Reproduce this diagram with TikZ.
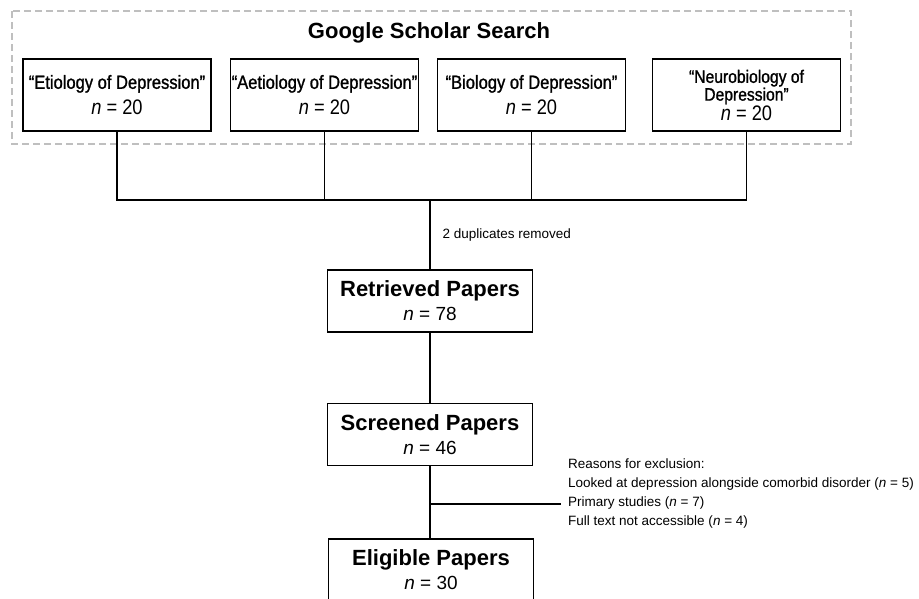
\documentclass[tikz,border=0pt]{standalone}
\usepackage{fontspec}
\setmainfont{Liberation Sans}
\newfontfamily\narrowfont[FakeStretch=0.87]{Liberation Sans}
\newfontfamily\queryfont[FakeStretch=0.87,FakeBold=1.2]{Liberation Sans}
\usetikzlibrary{positioning}

\begin{document}
\begin{tikzpicture}[x=1pt,y=-1pt,
  query/.style={draw,line width=1.8pt,inner sep=0pt,minimum width=188pt,minimum height=72pt,align=center,font=\queryfont\fontsize{19}{26}\selectfont},
  stage/.style={draw,line width=1.8pt,inner sep=0pt,minimum width=205pt,minimum height=62pt,align=center,font=\fontsize{19}{24}\selectfont},
  link/.style={line width=1.4pt},
  note/.style={inner sep=0pt,align=left,font=\fontsize{13.5}{19}\selectfont}]
\useasboundingbox (0,0) rectangle (919,598);

%Рамка поиска
\draw[line width=1.3pt,color=black!25,dash pattern=on 7pt off 4pt] (12,11) rectangle (851,144);
\node (title) at (429,33) {\bfseries\fontsize{22}{24}\selectfont Google Scholar Search};

%Запросы
\node[query] (q1) at (117,95) {“Etiology of Depression”\\\narrowfont\fontsize{21}{26}\selectfont\textit{n} = 20};
\node[query] (q2) at (324.5,95) {“Aetiology of Depression”\\\narrowfont\fontsize{21}{26}\selectfont\textit{n} = 20};
\node[query] (q3) at (531.5,95) {“Biology of Depression”\\\narrowfont\fontsize{21}{26}\selectfont\textit{n} = 20};
\node[query,font=\queryfont\fontsize{18}{16.5}\selectfont] (q4) at (746.5,95) {“Neurobiology of\\Depression”\\\narrowfont\fontsize{21}{26}\selectfont\textit{n} = 20};

%Этапы отбора
\node[stage] (ret) at (430,301) {\bfseries\fontsize{22}{24}\selectfont Retrieved Papers\\\textit{n} = 78};
\node[stage] (scr) at (430,434.5) {\bfseries\fontsize{22}{24}\selectfont Screened Papers\\\textit{n} = 46};
\node[stage] (eli) at (431,570) {\bfseries\fontsize{22}{24}\selectfont Eligible Papers\\\textit{n} = 30};

%Соединительные линии
\coordinate (join) at (430,200);
\draw[link] (q1.south) |- (join) -| (q4.south);
\draw[link] (q2.south) -- (q2.south |- join);
\draw[link] (q3.south) -- (q3.south |- join);
\draw[link] (join) -- (ret.north) node[midway,right=12pt,note] (dup) {2 duplicates removed};
\draw[link] (ret.south) -- (scr.north);
\draw[link] (scr.south) -- (scr.south |- eli.north);

%Исключения
\coordinate (cut) at (561,504);
\draw[link] (scr.south |- cut) -- (cut);
\node[note,right=7pt of cut,yshift=10.5pt] (excl) {Reasons for exclusion:\\Looked at depression alongside comorbid disorder (\textit{n} = 5)\\Primary studies (\textit{n} = 7)\\Full text not accessible (\textit{n} = 4)};

\end{tikzpicture}
\end{document}
